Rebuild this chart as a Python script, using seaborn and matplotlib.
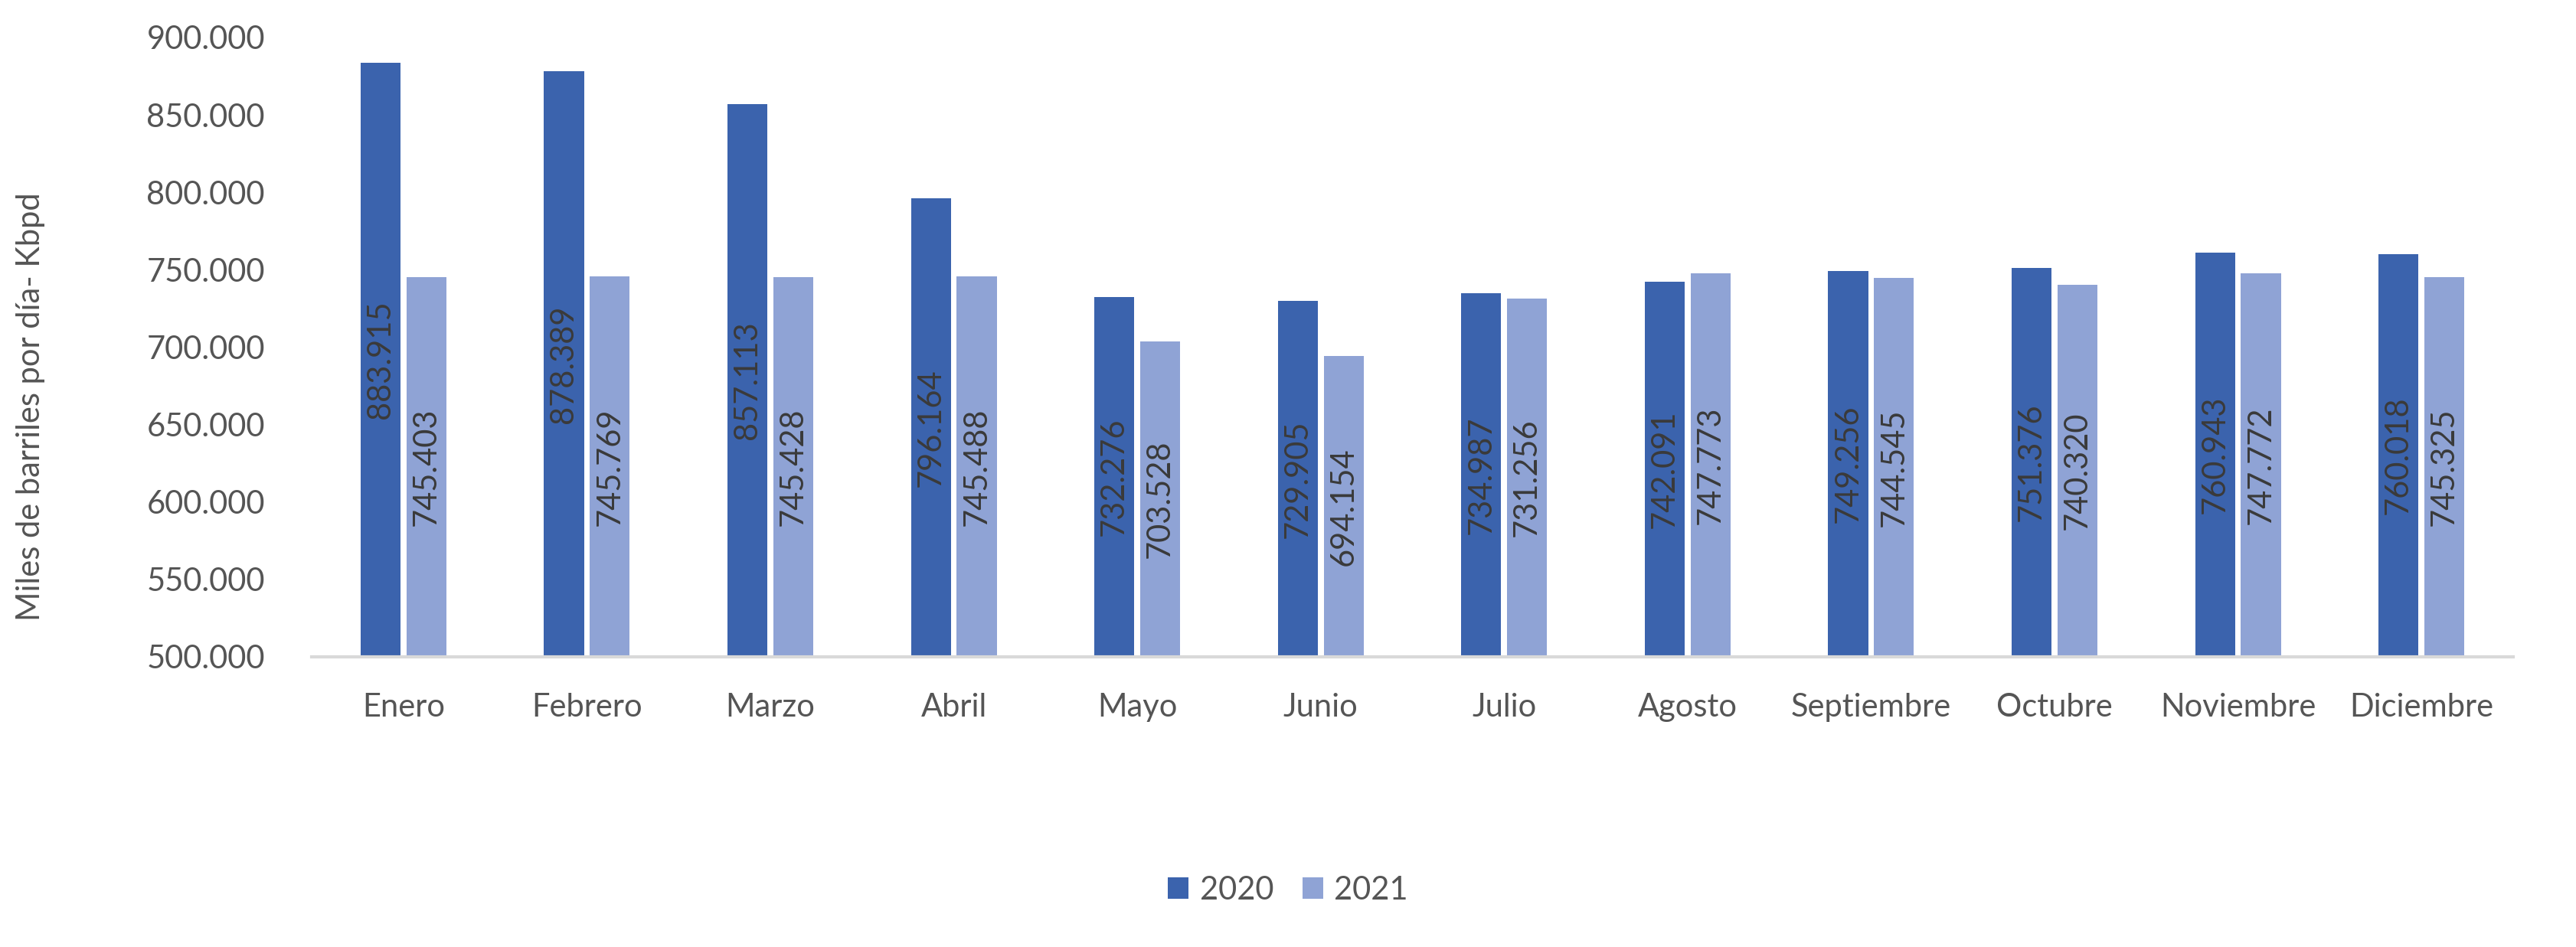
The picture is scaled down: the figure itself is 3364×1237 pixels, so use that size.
import pandas as pd
import matplotlib.pyplot as plt
import seaborn as sns

meses = ['Enero', 'Febrero', 'Marzo', 'Abril', 'Mayo', 'Junio', 'Julio',
         'Agosto', 'Septiembre', 'Octubre', 'Noviembre', 'Diciembre']
prod_2020 = [883.915, 878.389, 857.113, 796.164, 732.276, 729.905,
             734.987, 742.091, 749.256, 751.376, 760.943, 760.018]
prod_2021 = [745.403, 745.769, 745.428, 745.488, 703.528, 694.154,
             731.256, 747.773, 744.545, 740.320, 747.772, 745.325]
anios = ['2020', '2021']
y_ticks = [500, 550, 600, 650, 700, 750, 800, 850, 900]

df = pd.DataFrame({
    'Mes': meses * 2,
    'Año': ['2020'] * 12 + ['2021'] * 12,
    'Kbpd': prod_2020 + prod_2021,
})

sns.set_style('white')
plt.rcParams['font.family'] = ['Lato', 'DejaVu Sans']

fig = plt.figure(figsize=(16.82, 6.185), dpi=200)
ax = fig.add_axes([0.121, 0.3064, 0.8546, 0.654])

colores = {'2020': '#3B63AD', '2021': '#8FA3D5'}
sns.barplot(data=df, x='Mes', y='Kbpd', hue='Año', hue_order=anios,
            palette=colores, width=0.5, gap=0.13, saturation=1,
            edgecolor='none', linewidth=0, ax=ax, legend=True)

ymin = 500
ax.set_ylim(ymin, 900)
ax.set_yticks(y_ticks)
ax.set_yticklabels([f'{v:.3f}' for v in y_ticks])

# las barras arrancan en 500 para que la etiqueta quede centrada en lo visible
for cont, vals in zip(ax.containers, [prod_2020, prod_2021]):
    for p in cont.patches:
        top = p.get_y() + p.get_height()
        p.set_y(ymin)
        p.set_height(top - ymin)
    ax.bar_label(cont, labels=[f'{v:.3f}' for v in vals], label_type='center',
                 rotation=90, fontsize=15, color='#3A3A3A')

for s in ['top', 'right', 'left']:
    ax.spines[s].set_visible(False)
ax.spines['bottom'].set_color('#D9D9D9')
ax.spines['bottom'].set_linewidth(1.5)

ax.tick_params(axis='both', length=0, labelsize=15, labelcolor='#555555')
ax.tick_params(axis='x', pad=17)
ax.tick_params(axis='y', pad=22)
ax.set_xlabel('')
ax.set_ylabel('Miles de barriles por día- Kbpd', fontsize=15, color='#555555')
ax.yaxis.set_label_coords(-0.121, 0.404)

handles, labels = ax.get_legend_handles_labels()
ax.get_legend().remove()
fig.legend(handles, labels, loc='center', bbox_to_anchor=(0.5, 0.06), ncol=2,
           frameon=False, fontsize=15, labelcolor='#555555',
           handlelength=0.65, handleheight=0.65, handletextpad=0.35,
           columnspacing=0.9)

fig.savefig('out.png', dpi=200)
